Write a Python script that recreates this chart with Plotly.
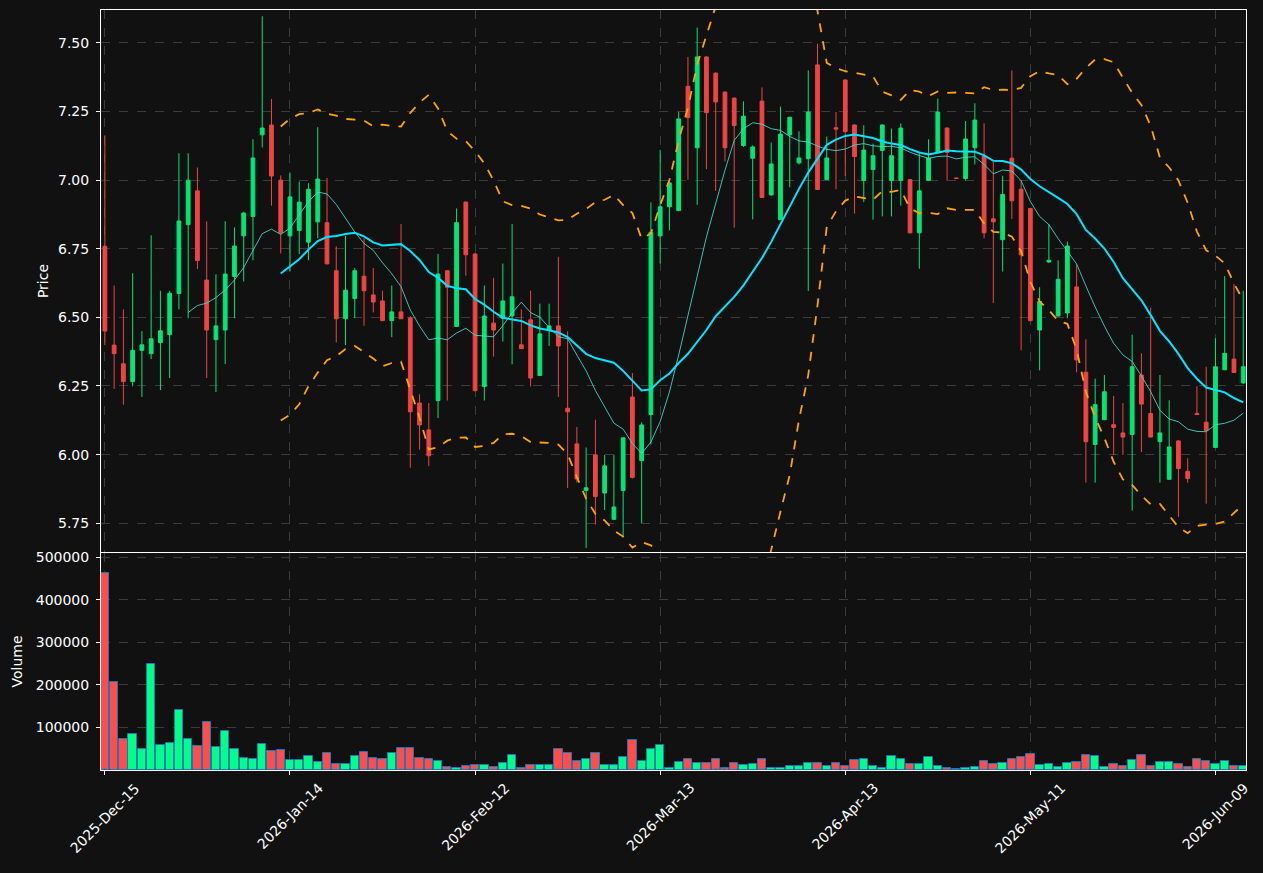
import pandas as pd
import plotly.graph_objects as go

# ---------------- data ----------------
opens = [6.759, 6.399, 6.331, 6.266, 6.380, 6.368, 6.408, 6.437, 6.587, 6.838,
         6.961, 6.636, 6.419, 6.454, 6.649, 6.797, 6.868, 7.165, 7.201, 7.000,
         6.797, 6.817, 6.774, 6.848, 6.845, 6.670, 6.495, 6.569, 6.650, 6.582,
         6.560, 6.488, 6.520, 6.498, 6.188, 6.090, 6.197, 6.670, 6.467, 6.920,
         6.731, 6.248, 6.479, 6.497, 6.505, 6.400, 6.491, 6.288, 6.456, 6.469,
         6.169, 6.039, 5.869, 5.999, 5.860, 5.764, 5.869, 6.210, 5.978, 6.146,
         6.797, 6.903, 6.889, 7.342, 7.118, 7.449, 7.390, 7.321, 7.299, 7.126,
         7.080, 7.288, 6.946, 6.856, 7.165, 7.063, 7.078, 7.420, 7.002, 7.191,
         7.365, 7.201, 6.999, 7.039, 7.108, 6.999, 6.999, 7.002, 6.808, 6.999,
         7.101, 7.190, 7.008, 7.006, 7.118, 7.089, 6.859, 6.783, 7.080, 6.967,
         6.897, 6.454, 6.702, 6.505, 6.516, 6.611, 6.300, 6.037, 6.127, 6.109,
         6.079, 6.073, 6.290, 6.150, 6.047, 5.910, 6.050, 5.939, 6.150, 6.118,
         6.026, 6.309, 6.348, 6.261]
highs = [7.163, 6.616, 6.529, 6.661, 6.450, 6.799, 6.597, 6.597, 7.098, 7.098,
         7.046, 6.850, 6.657, 6.850, 6.828, 6.885, 7.149, 7.597, 7.296, 7.017,
         7.027, 6.995, 6.989, 7.193, 7.008, 6.759, 6.797, 6.680, 6.788, 6.680,
         6.597, 6.616, 6.840, 6.505, 6.220, 6.188, 6.731, 6.672, 6.897, 6.922,
         6.733, 6.616, 6.644, 6.696, 6.840, 6.529, 6.597, 6.550, 6.550, 6.721,
         6.450, 6.101, 6.026, 6.127, 5.999, 5.999, 6.063, 6.297, 6.118, 6.919,
         7.110, 6.992, 7.248, 7.449, 7.556, 7.451, 7.392, 7.323, 7.301, 7.287,
         7.127, 7.338, 7.137, 7.268, 7.231, 7.178, 7.400, 7.497, 7.159, 7.248,
         7.367, 7.203, 7.200, 7.133, 7.203, 7.188, 7.207, 7.004, 7.098, 7.149,
         7.297, 7.192, 7.009, 7.216, 7.280, 7.207, 7.067, 7.016, 7.400, 6.999,
         6.899, 6.610, 6.840, 6.708, 6.776, 6.693, 6.420, 6.277, 6.290, 6.214,
         6.188, 6.437, 6.369, 6.535, 6.290, 6.198, 6.052, 5.987, 6.249, 6.320,
         6.424, 6.650, 6.622, 6.597]
lows = [6.399, 6.239, 6.182, 6.249, 6.210, 6.348, 6.235, 6.279, 6.529, 6.497,
        6.676, 6.279, 6.228, 6.330, 6.497, 6.631, 6.708, 7.119, 6.907, 6.733,
        6.667, 6.731, 6.708, 6.788, 6.693, 6.409, 6.399, 6.497, 6.469, 6.518,
        6.487, 6.428, 6.494, 5.952, 6.018, 5.958, 6.133, 6.197, 6.466, 6.652,
        6.231, 6.197, 6.357, 6.412, 6.329, 6.385, 6.248, 6.287, 6.396, 6.210,
        5.878, 5.898, 5.660, 5.745, 5.798, 5.763, 5.699, 5.913, 5.750, 6.037,
        6.696, 6.817, 6.887, 7.002, 6.910, 7.040, 6.961, 7.068, 6.827, 7.121,
        6.857, 6.935, 6.945, 6.855, 6.974, 7.057, 6.596, 6.964, 7.000, 6.967,
        7.015, 6.878, 6.920, 6.856, 6.868, 6.868, 6.907, 6.806, 6.677, 6.998,
        7.100, 6.999, 7.005, 6.999, 7.057, 6.788, 6.552, 6.667, 6.859, 6.380,
        6.486, 6.307, 6.698, 6.503, 6.497, 6.300, 5.898, 5.898, 6.126, 5.999,
        5.999, 5.796, 6.009, 6.063, 5.898, 5.908, 5.773, 5.898, 6.145, 5.821,
        6.024, 6.308, 6.298, 6.259]
closes = [6.450, 6.368, 6.266, 6.380, 6.400, 6.422, 6.451, 6.588, 6.851, 7.000,
          6.707, 6.454, 6.469, 6.658, 6.760, 6.880, 7.081, 7.190, 7.015, 6.808,
          6.939, 6.920, 6.967, 7.004, 6.695, 6.495, 6.599, 6.670, 6.597, 6.556,
          6.488, 6.520, 6.495, 6.156, 6.108, 5.996, 6.658, 6.610, 6.845, 6.728,
          6.233, 6.505, 6.454, 6.560, 6.575, 6.386, 6.279, 6.440, 6.469, 6.396,
          6.156, 5.911, 5.879, 5.847, 5.959, 5.809, 6.061, 5.917, 6.108, 6.810,
          6.903, 6.990, 7.223, 7.228, 7.449, 7.246, 7.285, 7.118, 7.199, 7.233,
          7.121, 6.937, 7.059, 7.168, 7.229, 7.081, 7.248, 6.966, 7.081, 7.186,
          7.177, 7.086, 7.110, 7.089, 7.201, 7.089, 7.190, 6.808, 6.961, 7.081,
          7.248, 7.101, 7.006, 7.150, 7.219, 6.808, 6.848, 6.948, 6.925, 6.728,
          6.488, 6.558, 6.708, 6.639, 6.760, 6.345, 6.047, 6.182, 6.229, 6.099,
          6.064, 6.320, 6.184, 6.064, 6.079, 6.028, 5.949, 5.913, 6.146, 6.088,
          6.320, 6.369, 6.299, 6.320]
volumes = [462000, 206000, 71700, 83500, 48200, 248000, 57600, 62300, 142000, 74000,
           55300, 111700, 52900, 90600, 48200, 27000, 24700, 60000, 43500, 45900,
           22300, 22300, 31800, 17600, 38800, 12900, 12900, 31800, 41200, 27000,
           24700, 38800, 50600, 50600, 27000, 24700, 20000, 5900, 5100, 8200,
           10600, 10600, 5900, 15300, 34100, 3500, 10600, 10600, 10600, 48200,
           38800, 20000, 24700, 38800, 10600, 10600, 29400, 69400, 20000, 48200,
           57600, 3500, 17600, 24700, 15300, 15300, 24700, 3500, 15300, 10600,
           12900, 24700, 3500, 3500, 8200, 8200, 15300, 15300, 8200, 15300,
           8200, 22300, 24700, 8200, 5100, 31800, 24700, 12900, 12900, 29400,
           8200, 3500, 1200, 3500, 5900, 20000, 12900, 15300, 24700, 29400,
           36500, 10600, 12900, 5900, 15300, 17600, 34100, 31800, 5900, 12900,
           8200, 22300, 34100, 8200, 17600, 17600, 12900, 5900, 24700, 20000,
           12900, 20000, 8200, 8200]
tick_labels = ["2025-Dec-15", "2026-Jan-14", "2026-Feb-12", "2026-Mar-13",
               "2026-Apr-13", "2026-May-11", "2026-Jun-09"]
tick_step = 20

# ---------------- derived ----------------
n = len(closes)
idx = list(range(n))
cs = pd.Series(closes)
ma10 = cs.rolling(10).mean()
ma20 = cs.rolling(20).mean()
sd20 = cs.rolling(20).std(ddof=0)
bb_up = ma20 + 2 * sd20
bb_lo = ma20 - 2 * sd20

UP_C, DN_C = "#00e676", "#ef4444"
VUP_C, VDN_C = "#00ff88", "#ff4d4d"
vol_colors = [VUP_C if c >= o else VDN_C for o, c in zip(opens, closes)]

fig = go.Figure()
fig.add_trace(go.Candlestick(
    x=idx, open=opens, high=highs, low=lows, close=closes,
    increasing=dict(line=dict(color=UP_C, width=1), fillcolor=UP_C),
    decreasing=dict(line=dict(color=DN_C, width=1), fillcolor=DN_C),
    whiskerwidth=0, xaxis="x", yaxis="y", showlegend=False))
fig.add_trace(go.Scatter(x=idx, y=ma10, mode="lines",
                         line=dict(color="rgba(64,224,208,0.85)", width=1),
                         xaxis="x", yaxis="y", showlegend=False))
fig.add_trace(go.Scatter(x=idx, y=ma20, mode="lines",
                         line=dict(color="#00e5ff", width=2),
                         xaxis="x", yaxis="y", showlegend=False))
for band in (bb_up, bb_lo):
    fig.add_trace(go.Scatter(x=idx, y=band, mode="lines",
                             line=dict(color="#ffa500", width=1.8, dash="dash"),
                             xaxis="x", yaxis="y", showlegend=False))
fig.add_trace(go.Bar(x=idx, y=volumes, marker=dict(color=vol_colors,
                     line=dict(color="#1f77b4", width=1)),
                     width=0.9, xaxis="x2", yaxis="y2", showlegend=False))

grid = dict(showgrid=True, gridcolor="#3c3c3c", griddash="dash", gridwidth=1)
frame = dict(showline=True, linecolor="white", linewidth=1, mirror=True,
             zeroline=False, ticks="outside", ticklen=4, tickcolor="white",
             automargin=False,
             tickfont=dict(color="white", size=14, family="DejaVu Sans"))
tickvals = list(range(0, n, tick_step))
xr = [-0.42, 123.3]

# rotated date labels centred under their ticks
annotations = [dict(x=tv, xref="x2", y=0, yref="paper", text=lab,
                    textangle=-45, xanchor="center", yanchor="top",
                    yshift=-7, showarrow=False,
                    font=dict(size=14, color="white", family="DejaVu Sans"))
               for tv, lab in zip(tickvals, tick_labels)]

fig.update_layout(
    width=1263, height=873,
    paper_bgcolor="#111111", plot_bgcolor="#111111",
    margin=dict(l=101, r=17, t=10, b=103, autoexpand=False),
    font=dict(family="DejaVu Sans", size=14, color="white"),
    bargap=0, boxgap=0.42,
    annotations=annotations,
    xaxis=dict(domain=[0, 1], anchor="y", range=xr, tickvals=tickvals,
               showticklabels=False,
               rangeslider=dict(visible=False), **grid, **frame),
    yaxis=dict(domain=[0.2868, 1], anchor="x", range=[5.645, 7.62],
               tickvals=[5.75, 6.0, 6.25, 6.5, 6.75, 7.0, 7.25, 7.5],
               tickformat=".2f", ticklabelstandoff=4,
               title=dict(text="Price", standoff=6,
                          font=dict(size=14, color="white")),
               **grid, **frame),
    xaxis2=dict(domain=[0, 1], anchor="y2", range=xr, matches="x",
                tickvals=tickvals, showticklabels=False,
                **grid, **frame),
    yaxis2=dict(domain=[0, 0.2855], anchor="x2", range=[0, 510000],
                tickvals=[100000, 200000, 300000, 400000, 500000],
                tickformat="d", ticklabelstandoff=4,
                title=dict(text="Volume", standoff=9,
                           font=dict(size=14, color="white")),
                **grid, **frame),
)

fig.write_html("out.html")
